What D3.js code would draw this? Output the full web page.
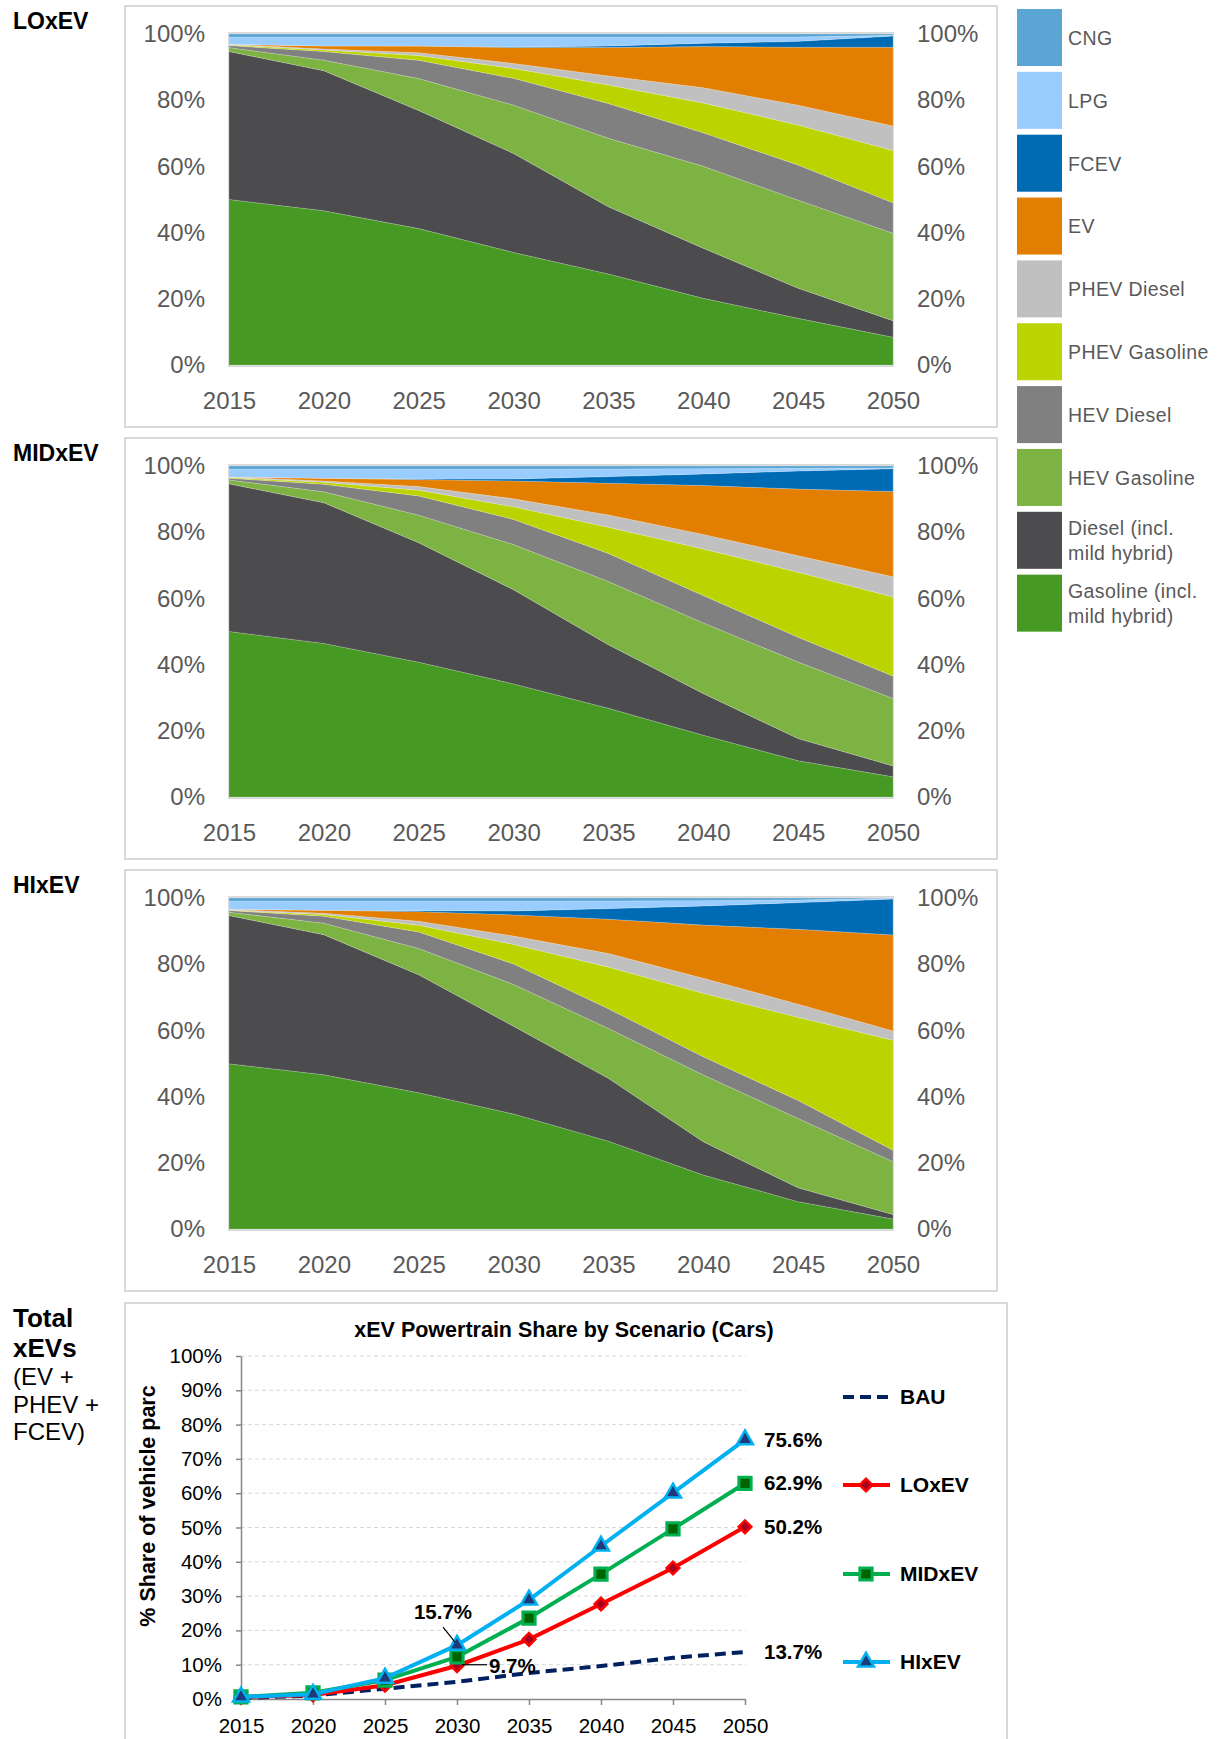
<!DOCTYPE html>
<html>
<head>
<meta charset="utf-8">
<title>xEV powertrain share by scenario</title>
<script src="https://d3js.org/d3.v7.min.js"></script>
<style>
    body {
        margin: 0;
        padding: 0;
        background: #fff;
        font-family: Arial, "Liberation Sans", sans-serif;
    }
</style>
</head>
<body>
<svg id="chart" width="1219" height="1739"></svg>

<script>
// ---- DATA ----
const years = [2015, 2020, 2025, 2030, 2035, 2040, 2045, 2050];

// stacking order, bottom to top
const powertrains = ["Gasoline", "Diesel", "HEV Gasoline", "HEV Diesel", "PHEV Gasoline",
                     "PHEV Diesel", "EV", "FCEV", "LPG", "CNG"];
const powertrainColors = ["#469a24", "#4c4c4e", "#7db343", "#808080", "#bbd400",
                          "#c0c0c0", "#e27e00", "#006bb5", "#99ccff", "#5aa5d3"];
// legend, top to bottom
const legendLabels = [["CNG"], ["LPG"], ["FCEV"], ["EV"], ["PHEV Diesel"], ["PHEV Gasoline"],
                      ["HEV Diesel"], ["HEV Gasoline"], ["Diesel (incl.", "mild hybrid)"],
                      ["Gasoline (incl.", "mild hybrid)"]];

// share of parc (%) per powertrain, rows in the order of `powertrains`
const loxevShares = [
    [50.0, 46.6, 41.0, 34.0, 27.5, 20.1, 14.1, 8.4],
    [44.7, 42.3, 35.5, 29.9, 20.3, 15.1, 9.1, 5.0],
    [1.2, 3.2, 9.6, 14.6, 20.7, 24.7, 26.6, 26.4],
    [0.6, 2.6, 5.5, 8.1, 10.5, 10.1, 10.6, 9.2],
    [0.2, 0.5, 1.4, 3.0, 5.6, 9.0, 12.1, 15.8],
    [0.2, 0.3, 0.9, 1.5, 2.7, 4.6, 6.0, 7.4],
    [0.0, 0.9, 2.0, 4.8, 8.6, 12.4, 17.5, 23.8],
    [0.0, 0.0, 0.0, 0.2, 0.5, 1.0, 1.8, 3.4],
    [2.1, 2.6, 2.6, 2.9, 2.6, 1.9, 1.3, 0.2],
    [1.0, 1.0, 1.0, 1.0, 1.0, 0.9, 0.9, 0.4]
];
const midxevShares = [
    [50.0, 46.4, 40.6, 34.1, 26.8, 18.7, 11.0, 6.1],
    [44.6, 42.5, 36.0, 28.4, 19.2, 12.6, 6.7, 3.3],
    [1.2, 3.3, 8.3, 13.6, 19.1, 21.4, 23.2, 20.4],
    [0.5, 2.3, 5.8, 7.6, 8.5, 8.3, 7.5, 6.8],
    [0.2, 0.6, 1.7, 3.8, 7.9, 14.1, 19.7, 23.9],
    [0.2, 0.4, 1.1, 2.4, 3.7, 4.4, 5.0, 6.1],
    [0.0, 0.8, 2.1, 5.4, 9.6, 14.8, 20.2, 25.8],
    [0.0, 0.0, 0.2, 0.6, 2.0, 3.5, 5.5, 6.9],
    [2.3, 2.7, 2.9, 2.9, 2.3, 1.6, 0.8, 0.2],
    [1.0, 1.0, 1.0, 1.0, 0.9, 0.8, 0.7, 0.6]
];
const hixevShares = [
    [49.9, 46.6, 41.0, 34.7, 26.6, 16.3, 8.3, 3.0],
    [44.8, 42.3, 35.5, 26.5, 19.0, 10.1, 4.2, 1.4],
    [1.0, 3.5, 7.9, 12.6, 15.1, 20.2, 21.0, 16.0],
    [0.5, 2.1, 5.0, 6.2, 6.0, 5.5, 5.5, 3.5],
    [0.1, 0.5, 2.0, 5.9, 12.6, 19.2, 25.2, 33.3],
    [0.2, 0.4, 1.2, 2.5, 4.1, 4.5, 4.0, 2.8],
    [0.1, 0.9, 2.9, 6.4, 10.4, 16.1, 22.7, 29.1],
    [0.0, 0.0, 0.3, 1.2, 3.2, 5.8, 8.1, 10.9],
    [2.4, 2.7, 2.8, 2.9, 2.3, 1.6, 0.8, 0.2],
    [1.0, 1.0, 1.0, 1.0, 0.9, 0.8, 0.6, 0.1]
];

// total xEV share (EV + PHEV + FCEV), %
const bauTotal = [0.3, 1.0, 3.0, 5.0, 7.6, 9.6, 12.0, 13.7];
const loxevTotal = [0.5, 1.2, 4.0, 9.7, 17.4, 27.7, 38.2, 50.2];
const midxevTotal = [0.6, 1.8, 5.5, 12.3, 23.6, 36.4, 49.6, 62.9];
const hixevTotal = [0.6, 1.4, 6.1, 15.7, 28.9, 44.6, 60.1, 75.6];

const svg = d3.select("#chart");

// ---- STACKED AREA PANELS ----
const panelW = 872, panelH = 421;
const plot = { left: 229, right: 893, top: 28, bottom: 359 };

function drawPanel(name, shares, top) {
    let g = svg.append("g").attr("transform", "translate(0," + top + ")");

    g.append("text")
        .attr("x", 13).attr("y", 23)
        .attr("font-size", "23px").attr("font-weight", "bold")
        .text(name);

    g.append("rect")
        .attr("x", 125).attr("y", 0)
        .attr("width", panelW).attr("height", panelH)
        .attr("fill", "none").attr("stroke", "#d9d9d9").attr("stroke-width", 2);

    const rows = years.map((yr, i) => {
        let r = { year: yr };
        powertrains.forEach((p, k) => r[p] = shares[k][i]);
        return r;
    });
    const series = d3.stack().keys(powertrains).offset(d3.stackOffsetExpand)(rows);

    const x = d3.scaleLinear().domain([2015, 2050]).range([plot.left, plot.right]);
    const y = d3.scaleLinear().domain([0, 1]).range([plot.bottom, plot.top]);

    g.append("rect")
        .attr("x", plot.left).attr("y", plot.top - 1)
        .attr("width", plot.right - plot.left).attr("height", plot.bottom - plot.top + 2)
        .attr("fill", "none").attr("stroke", "#d9d9d9").attr("stroke-width", 2);

    const area = d3.area()
        .x(d => x(d.data.year))
        .y0(d => y(d[0]))
        .y1(d => y(d[1]));

    g.selectAll("path.layer").data(series)
        .join("path")
        .attr("class", "layer")
        .attr("d", area)
        .attr("fill", (d, i) => powertrainColors[i])
        .attr("stroke", "#ffffff")
        .attr("stroke-opacity", 0.3)
        .attr("stroke-width", 0.6);

    const pct = d3.format(".0%");
    const yTicks = [0, 0.2, 0.4, 0.6, 0.8, 1];

    let left = g.append("g")
        .attr("transform", "translate(" + plot.left + ",0)")
        .call(d3.axisLeft(y).tickValues(yTicks).tickFormat(pct).tickSize(0).tickPadding(24));
    let right = g.append("g")
        .attr("transform", "translate(" + plot.right + ",0)")
        .call(d3.axisRight(y).tickValues(yTicks).tickFormat(pct).tickSize(0).tickPadding(24));
    let bottom = g.append("g")
        .attr("transform", "translate(0," + plot.bottom + ")")
        .call(d3.axisBottom(x).tickValues(years).tickFormat(d3.format("d")).tickSize(0).tickPadding(27));

    [left, right, bottom].forEach(a => {
        a.select(".domain").remove();
        a.attr("font-family", null).attr("font-size", null);
        a.selectAll("text").attr("fill", "#595959").attr("font-size", "24px");
    });
}

drawPanel("LOxEV", loxevShares, 6);
drawPanel("MIDxEV", midxevShares, 438);
drawPanel("HIxEV", hixevShares, 870);

// legend for the stacked panels
let legend = svg.append("g");
legendLabels.forEach((lines, i) => {
    const k = powertrains.length - 1 - i;
    const y0 = 9 + i * 62.85;
    legend.append("rect")
        .attr("x", 1017).attr("y", y0)
        .attr("width", 45).attr("height", 57)
        .attr("fill", powertrainColors[k]);
    lines.forEach((ln, j) => {
        legend.append("text")
            .attr("x", 1068)
            .attr("y", y0 + 29 + (j - (lines.length - 1) / 2) * 25)
            .attr("dy", "0.35em")
            .attr("fill", "#595959")
            .attr("font-size", "19.5px")
            .attr("letter-spacing", "0.4px")
            .text(ln);
    });
});

// ---- TOTAL xEV LINE CHART ----
let side = svg.append("text").attr("x", 13).attr("font-size", "26px");
side.append("tspan").attr("x", 13).attr("y", 1327).attr("font-weight", "bold").text("Total");
side.append("tspan").attr("x", 13).attr("y", 1357).attr("font-weight", "bold").text("xEVs");
side.append("tspan").attr("x", 13).attr("y", 1385).attr("font-size", "24px").text("(EV +");
side.append("tspan").attr("x", 13).attr("y", 1413).attr("font-size", "24px").text("PHEV +");
side.append("tspan").attr("x", 13).attr("y", 1440).attr("font-size", "24px").text("FCEV)");

svg.append("rect")
    .attr("x", 125).attr("y", 1303)
    .attr("width", 882).attr("height", 500)
    .attr("fill", "none").attr("stroke", "#d9d9d9").attr("stroke-width", 2);

svg.append("text")
    .attr("x", 564).attr("y", 1337)
    .attr("text-anchor", "middle")
    .attr("font-size", "21.5px").attr("font-weight", "bold")
    .text("xEV Powertrain Share by Scenario (Cars)");

const lx = d3.scaleLinear().domain([2015, 2050]).range([241, 745]);
const ly = d3.scaleLinear().domain([0, 100]).range([1699, 1356]);

svg.append("g").selectAll("line.grid").data(d3.range(10, 101, 10))
    .join("line")
    .attr("class", "grid")
    .attr("x1", lx(2015)).attr("x2", lx(2050) + 1)
    .attr("y1", d => ly(d)).attr("y2", d => ly(d))
    .attr("stroke", "#d9d9d9").attr("stroke-dasharray", "4,3");

let yAxis = svg.append("g")
    .attr("transform", "translate(" + lx(2015) + ",0)")
    .call(d3.axisLeft(ly).tickValues(d3.range(0, 101, 10)).tickFormat(d => d + "%")
        .tickSize(5).tickSizeOuter(0).tickPadding(14));
let xAxis = svg.append("g")
    .attr("transform", "translate(0," + ly(0) + ")")
    .call(d3.axisBottom(lx).tickValues(years).tickFormat(d3.format("d"))
        .tickSize(6).tickSizeOuter(0).tickPadding(13));
[yAxis, xAxis].forEach(a => {
    a.attr("font-family", null).attr("font-size", null);
    a.selectAll("path, line").attr("stroke", "#868686").attr("stroke-width", 1.5);
    a.selectAll("text").attr("fill", "#000").attr("font-size", "20.5px");
});

svg.append("text")
    .attr("transform", "translate(155,1506) rotate(-90)")
    .attr("text-anchor", "middle")
    .attr("font-size", "21.5px").attr("font-weight", "bold")
    .text("% Share of vehicle parc");

const scenarios = [
    { name: "BAU", values: bauTotal, color: "#002060", dash: "11,6", symbol: null },
    { name: "LOxEV", values: loxevTotal, color: "#ff0000", symbol: "diamond", fill: "#a50021" },
    { name: "MIDxEV", values: midxevTotal, color: "#00b050", symbol: "square", fill: "#006400" },
    { name: "HIxEV", values: hixevTotal, color: "#00b0f0", symbol: "triangle", fill: "#1f3a7a" }
];

function marker(sel, s) {
    if (s.symbol === "diamond") {
        sel.attr("d", d3.symbol(d3.symbolSquare, 80)())
            .attr("stroke-width", 2.5);
        return "rotate(45)";
    }
    if (s.symbol === "square") {
        sel.attr("d", d3.symbol(d3.symbolSquare, 150)())
            .attr("stroke-width", 3);
        return "";
    }
    sel.attr("d", d3.symbol(d3.symbolTriangle, 110)())
        .attr("stroke-width", 2.5);
    return "";
}

const line = d3.line()
    .x((d, i) => lx(years[i]))
    .y(d => ly(d));

scenarios.forEach(s => {
    svg.append("path")
        .datum(s.values)
        .attr("d", line)
        .attr("fill", "none")
        .attr("stroke", s.color)
        .attr("stroke-width", 4)
        .attr("stroke-dasharray", s.dash || null);

    if (s.symbol) {
        s.values.forEach((v, i) => {
            let p = svg.append("path")
                .attr("fill", s.fill).attr("stroke", s.color);
            const rot = marker(p, s);
            p.attr("transform", "translate(" + lx(years[i]) + "," + ly(v) + ")" + rot);
        });
    }
});

// end-of-line labels
const endLabels = [hixevTotal, midxevTotal, loxevTotal, bauTotal];
endLabels.forEach(vals => {
    const v = vals[vals.length - 1];
    svg.append("text")
        .attr("x", 764).attr("y", ly(v))
        .attr("dy", "0.35em")
        .attr("font-size", "20.5px").attr("font-weight", "bold")
        .text(v.toFixed(1) + "%");
});

// callouts at 2030
const hi30 = [lx(2030), ly(hixevTotal[3])];
svg.append("line")
    .attr("x1", hi30[0] - 14).attr("y1", hi30[1] - 18)
    .attr("x2", hi30[0] - 2).attr("y2", hi30[1] - 3)
    .attr("stroke", "#000").attr("stroke-width", 1.2);
svg.append("text")
    .attr("x", hi30[0] - 14).attr("y", hi30[1] - 26)
    .attr("text-anchor", "middle")
    .attr("font-size", "20.5px").attr("font-weight", "bold")
    .text(hixevTotal[3].toFixed(1) + "%");

const lo30 = [lx(2030), ly(loxevTotal[3])];
svg.append("line")
    .attr("x1", lo30[0] + 5).attr("y1", lo30[1] - 1)
    .attr("x2", lo30[0] + 30).attr("y2", lo30[1] - 1)
    .attr("stroke", "#000").attr("stroke-width", 1.2);
svg.append("text")
    .attr("x", lo30[0] + 32).attr("y", lo30[1] + 7)
    .attr("font-size", "20.5px").attr("font-weight", "bold")
    .text(loxevTotal[3].toFixed(1) + "%");

// line legend
const legendY = [1397, 1485, 1574, 1662];
scenarios.forEach((s, i) => {
    let lg = svg.append("g").attr("transform", "translate(0," + legendY[i] + ")");
    lg.append("line")
        .attr("x1", 843).attr("x2", 890)
        .attr("stroke", s.color).attr("stroke-width", 4)
        .attr("stroke-dasharray", s.dash || null);
    if (s.symbol) {
        let p = lg.append("path").attr("fill", s.fill).attr("stroke", s.color);
        const rot = marker(p, s);
        p.attr("transform", "translate(866,0)" + rot);
    }
    lg.append("text")
        .attr("x", 900).attr("dy", "0.35em")
        .attr("font-size", "21px").attr("font-weight", "bold")
        .text(s.name);
});
</script>
</body>
</html>
